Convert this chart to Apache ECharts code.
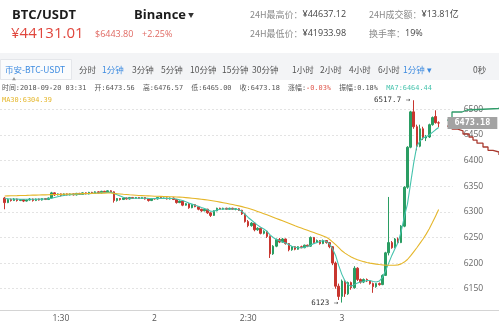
<!DOCTYPE html>
<html>
<head>
<meta charset="utf-8">
<script src="https://cdn.jsdelivr.net/npm/echarts@6/dist/echarts.min.js"></script>
<style>
html,body{margin:0;padding:0;background:#fff}
#chart{width:499px;height:329px}
</style>
</head>
<body>
<div id="chart"></div>
<script>
// 1-minute candles, 01:12 - 03:31
const firstTime = '01:12';
// [open, close, low, high]
const candles = [
  [6327,6318,6305,6329],[6318,6324,6317,6326],[6324,6322,6320,6326],[6322,6325,6321,6327],[6325,6322,6320,6326],
  [6322,6324,6321,6325],[6324,6321,6319,6325],[6321,6323,6320,6324],[6323,6325,6322,6327],[6325,6322,6320,6326],
  [6322,6325,6321,6326],[6325,6323,6322,6326],[6323,6326,6322,6327],[6326,6324,6323,6327],[6324,6327,6323,6328],
  [6327,6337,6326,6339],[6337,6333,6331,6338],[6333,6335,6332,6336],[6335,6332,6330,6336],[6332,6335,6331,6336],
  [6335,6333,6332,6336],[6333,6335,6332,6336],[6335,6333,6332,6336],[6333,6336,6332,6337],[6336,6334,6333,6337],
  [6334,6337,6333,6338],[6337,6335,6334,6338],[6335,6338,6334,6339],[6338,6336,6335,6339],[6336,6339,6335,6340],
  [6339,6337,6336,6340],[6337,6340,6336,6341],[6340,6338,6337,6341],[6338,6341,6337,6342],[6341,6339,6338,6342],
  [6339,6322,6318,6340],[6322,6326,6320,6327],[6326,6324,6322,6327],[6324,6327,6323,6328],[6327,6325,6324,6328],
  [6325,6328,6324,6329],[6328,6326,6325,6329],[6326,6328,6325,6329],[6328,6326,6325,6329],[6326,6328,6325,6329],
  [6328,6325,6324,6329],[6325,6322,6320,6326],[6322,6326,6321,6327],[6326,6325,6324,6327],[6325,6328,6324,6329],
  [6328,6326,6325,6329],[6326,6327,6325,6328],[6327,6325,6324,6328],[6325,6327,6324,6328],[6327,6324,6323,6328],
  [6324,6318,6316,6325],[6318,6321,6317,6322],[6321,6313,6311,6322],[6313,6316,6312,6317],[6316,6308,6306,6317],
  [6308,6314,6307,6315],[6314,6310,6309,6315],[6310,6305,6303,6311],[6305,6302,6300,6306],[6302,6305,6301,6306],
  [6305,6298,6296,6306],[6298,6293,6290,6299],[6293,6302,6292,6303],[6302,6307,6301,6308],[6307,6305,6304,6308],
  [6305,6307,6304,6308],[6307,6305,6304,6308],[6305,6307,6304,6308],[6307,6305,6304,6308],[6305,6306,6303,6307],
  [6306,6303,6302,6307],[6303,6296,6294,6304],[6296,6281,6279,6297],[6281,6273,6270,6284],[6273,6278,6271,6280],
  [6278,6265,6262,6279],[6265,6268,6263,6270],[6268,6258,6256,6269],[6258,6262,6256,6264],[6262,6252,6249,6263],
  [6252,6218,6210,6254],[6218,6233,6216,6235],[6233,6246,6231,6248],[6246,6241,6239,6249],[6241,6247,6240,6249],
  [6247,6238,6236,6248],[6238,6226,6223,6239],[6226,6232,6224,6233],[6232,6227,6225,6233],[6227,6232,6226,6233],
  [6232,6230,6229,6234],[6230,6235,6229,6236],[6235,6233,6231,6236],[6233,6250,6232,6252],[6250,6240,6238,6251],
  [6240,6244,6239,6246],[6244,6238,6236,6245],[6238,6244,6237,6246],[6244,6240,6238,6245],[6240,6232,6229,6241],
  [6232,6200,6196,6233],[6200,6155,6150,6203],[6155,6135,6128,6160],[6135,6165,6123,6168],[6165,6140,6134,6167],
  [6140,6162,6138,6164],[6162,6152,6148,6164],[6152,6190,6150,6194],[6190,6168,6165,6192],[6168,6163,6160,6170],
  [6163,6168,6161,6170],[6168,6165,6163,6170],[6165,6160,6158,6167],[6160,6154,6142,6162],[6154,6160,6152,6161],
  [6160,6158,6156,6162],[6158,6176,6157,6178],[6176,6220,6175,6222],[6220,6240,6215,6329],[6240,6230,6228,6243],
  [6230,6247,6229,6249],[6247,6240,6238,6250],[6240,6272,6239,6274],[6272,6348,6270,6350],[6348,6426,6345,6428],
  [6426,6495,6424,6497],[6495,6466,6462,6517.7],[6466,6428,6420,6470],[6428,6462,6426,6470],[6462,6444,6440,6466],
  [6444,6446,6438,6450],[6446,6470,6444,6472],[6470,6484,6468,6486],[6486,6474,6472,6498],[6473.56,6473.18,6465,6476.57]
];
const ma7 = [
  6326,6325.5,6325,6325,6324.8,6324.6,6324.4,6324.4,6324.5,6324.5,6324.6,6324.7,6324.8,6325,6325.5,
  6326.5,6328,6329.5,6331,6332,6333,6333.5,6334,6334,6334.5,6334.8,6335.2,6335.6,6336,6336.4,
  6336.8,6337.2,6337.6,6338,6338.4,6336,6333.5,6331,6328.5,6327,6326.5,6326.5,6326.5,6326.6,6326.7,
  6326.6,6326.2,6326,6326,6326.2,6326.3,6326.3,6326.2,6326.1,6326,6325,6323.5,6322,6319.5,6317,
  6315,6313,6311,6308.5,6306.5,6304,6301,6301,6303.5,6305,6305.5,6305.5,6305.5,6305.5,6305.5,
  6304,6301,6295,6289,6284,6279,6274,6270,6266.5,6262,6255,6250,6246,6244,6241,
  6239,6236,6233,6231,6230,6230,6231,6233,6235,6238,6240,6242,6244,6242,6238,
  6228,6215,6195,6178,6165,6158,6155,6158,6161,6163,6164,6166,6166,6164,6163,
  6165,6172,6185,6200,6215,6228,6240,6262,6290,6315,6355,6395,6428,6438,6444,
  6447,6450,6455,6460,6464.44
];
const ma30 = [
  6331.0,6331.2,6331.3,6331.5,6331.6,6331.8,6332.0,6332.1,6332.3,6332.5,
  6332.6,6332.8,6333.0,6333.1,6333.3,6333.5,6333.7,6333.9,6334.1,6334.3,
  6334.5,6334.7,6334.9,6335.1,6335.3,6335.5,6335.7,6335.9,6336.0,6336.2,
  6336.3,6336.4,6336.5,6336.6,6336.7,6336.0,6335.4,6334.8,6334.2,6333.7,
  6333.2,6332.8,6332.4,6332.0,6331.7,6331.4,6331.1,6330.8,6330.5,6330.3,
  6330.1,6329.9,6329.7,6329.5,6329.3,6329.0,6328.7,6328.3,6327.8,6327.2,
  6326.6,6326.0,6325.3,6324.6,6323.8,6323.0,6322.0,6321.0,6320.0,6319.0,
  6317.8,6316.6,6315.4,6314.2,6313.0,6311.6,6310.2,6308.6,6307.0,6305.2,
  6303.0,6300.8,6298.6,6296.4,6294.2,6292.0,6289.6,6287.2,6284.8,6282.4,
  6280.0,6277.6,6275.2,6272.8,6270.6,6268.4,6266.2,6264.0,6261.8,6259.6,
  6257.4,6255.2,6253.0,6250.6,6246.5,6241.5,6236.0,6230.0,6224.0,6219.5,
  6215.5,6212.0,6209.0,6206.5,6204.5,6202.8,6201.3,6200.0,6199.0,6198.0,
  6197.2,6196.5,6196.0,6195.8,6195.7,6195.8,6196.5,6198.5,6202.0,6207.0,
  6214.0,6222.0,6230.0,6238.5,6247.0,6256.5,6267.0,6279.0,6291.5,6304.39
];
// order book side lines: [depth, price]
const askDepth = [[0,6479],[5,6494.7],[15,6498.6],[20,6501.6],[52,6503.5]];
const bidDepth = [[0,6467],[5,6461.6],[10,6457.7],[16,6451.8],[22,6446],[26,6440],[30,6434],[36,6426.5],[41,6420],[46,6416.7],[52,6410.8]];
// time axis labels
const tickTimes = ['01:30','02:00','02:30','03:00'];
const tickLabels = ['1:30','2','2:30','3'];
const tabs = ['分时','1分钟','3分钟','5分钟','10分钟','15分钟','30分钟','1小时','2小时','4小时','6小时'];
const tabX = [79,102,132,161,190,222,252,292,320,349,378];

const UP = '#2a9d63', DOWN = '#c8362f', MA7C = '#46c3ad', MA30C = '#e5b62a';
const UI = '"Noto Sans CJK SC","Noto Sans",sans-serif';
const LAT = '"Open Sans","Noto Sans CJK SC",sans-serif';
const MONO = '"DejaVu Sans Mono","Noto Sans CJK SC",monospace';

// minute slots 01:11 - 03:35
const axisTimes = [];
for (let m = 71; m <= 215; m++) {
  axisTimes.push('0' + Math.floor(m / 60) + ':' + String(m % 60).padStart(2, '0'));
}
const off = axisTimes.indexOf(firstTime);
const pick = arr => axisTimes.map((t, i) => (i - off >= 0 && i - off < arr.length) ? arr[i - off] : '-');

const highs = candles.map(c => c[3]), lows = candles.map(c => c[2]);
const hiVal = Math.max(...highs), loVal = Math.min(...lows);
const hiIdx = highs.indexOf(hiVal) + off, loIdx = lows.indexOf(loVal) + off;
const last = candles[candles.length - 1];

const yMin = 6108.5, yMax = 6527.9;
const gridTop = 95, gridBottom = 19;

const txt = (text, x, y, font, fill, extra) => ({
  type: 'text', x: x, y: y, silent: true,
  style: Object.assign({ text: text, font: font, fill: fill, verticalAlign: 'middle' }, extra || {})
});
const pair = { l: { fill: '#8a8a8a', font: '9px ' + UI }, v: { fill: '#444', font: '9px ' + LAT } };
const infoFont = '6.9px ' + MONO;

const graphics = [
  { type: 'rect', shape: { x: 0, y: 53, width: 499, height: 27 }, style: { fill: '#f3f4f6' }, silent: true },
  { type: 'rect', shape: { x: 0.5, y: 59.5, width: 71, height: 20 }, style: { fill: '#fafbfc', stroke: '#e4e6ea' }, silent: true },
  txt('BTC/USDT', 12, 15.5, 'bold 13px ' + LAT, '#1c1c1c'),
  txt('Binance', 134, 15.5, 'bold 13px ' + LAT, '#1c1c1c'),
  txt('▼', 188, 14.5, '6px ' + UI, '#333'),
  txt('¥44131.01', 11, 34, '15px ' + LAT, '#e0463d'),
  txt('$6443.80', 95, 34.5, '9px ' + LAT, '#e06a63'),
  txt('+2.25%', 142, 34.5, '9px ' + LAT, '#e06a63'),
  txt('{l|24H最高价：}{v|¥44637.12}', 250, 14.5, '9px ' + UI, '#888', { rich: pair }),
  txt('{l|24H成交额：}{v|¥13.81亿}', 369, 14.5, '9px ' + UI, '#888', { rich: pair }),
  txt('{l|24H最低价：}{v|¥41933.98}', 250, 33.5, '9px ' + UI, '#888', { rich: pair }),
  txt('{l|换手率：}{v|19%}', 369, 33.5, '9px ' + UI, '#888', { rich: pair }),
  txt('币安-BTC-USDT', 5, 69.5, '8.5px ' + UI, '#3d8be0'),
  txt('▲', 12, 79, '4px ' + UI, '#999'),
  txt('1分钟 ▾', 403, 69.5, '8.5px ' + UI, '#3d8be0'),
  txt('0秒', 473, 69.5, '8.5px ' + UI, '#555'),
  txt('{g|时间:2018-09-20 03:31  开:6473.56  高:6476.57  低:6465.00  收:6473.18  涨幅:}{r|-0.03%}{g|  振幅:0.18%  }{t|MA7:6464.44}',
      2, 88.5, infoFont, '#555', { rich: { g: { fill: '#555', font: infoFont }, r: { fill: '#e0584d', font: infoFont }, t: { fill: MA7C, font: infoFont } } }),
  txt('MA30:6304.39', 2, 100, infoFont, MA30C)
];
tabs.forEach((t, i) => graphics.push(txt(t, tabX[i], 69.5, '8.5px ' + UI, t === '1分钟' ? '#3d8be0' : '#555')));

const chart = echarts.init(document.getElementById('chart'));
chart.setOption({
  animation: false,
  backgroundColor: '#fff',
  graphic: graphics,
  grid: [
    { left: 0, right: 46.3, top: gridTop, bottom: gridBottom },
    { left: 447, right: 0, top: gridTop, bottom: gridBottom }
  ],
  xAxis: [
    {
      type: 'category', data: axisTimes, boundaryGap: true, gridIndex: 0,
      axisLine: { lineStyle: { color: '#d4d4d4' } },
      axisTick: { show: false },
      axisLabel: {
        interval: (i, v) => tickTimes.includes(v),
        formatter: v => tickLabels[tickTimes.indexOf(v)],
        color: '#555', fontSize: 8.5, fontFamily: LAT, margin: 4
      },
      splitLine: { show: false }
    },
    {
      type: 'value', gridIndex: 1, min: 0, max: 52,
      axisLine: { show: true, onZero: false, lineStyle: { color: '#d4d4d4' } },
      axisTick: { show: false }, axisLabel: { show: false }, splitLine: { show: false }
    }
  ],
  yAxis: [
    {
      type: 'value', gridIndex: 0, position: 'right', min: yMin, max: yMax, splitNumber: 8,
      axisLine: { show: false }, axisTick: { show: false },
      axisLabel: { color: '#666', fontSize: 8.5, fontFamily: LAT, margin: 11, formatter: v => (v % 50 === 0 ? String(v) : '') },
      splitLine: { show: true, showMinLine: false, showMaxLine: false, lineStyle: { color: '#e3e3e3', type: [2, 2] } }
    },
    {
      type: 'value', gridIndex: 1, min: yMin, max: yMax, show: false
    }
  ],
  series: [
    {
      type: 'candlestick', name: 'K', data: pick(candles), barWidth: 2,
      itemStyle: { color: UP, color0: DOWN, borderColor: UP, borderColor0: DOWN, borderWidth: 1 },
      markPoint: {
        symbol: 'circle', symbolSize: 1, itemStyle: { color: 'rgba(0,0,0,0)' },
        label: { show: true, position: 'left', distance: 3, color: '#333', fontSize: 7.5, fontFamily: MONO, formatter: '{b}' },
        data: [
          { name: hiVal + ' →', coord: [axisTimes[hiIdx], hiVal] },
          { name: loVal + ' →', coord: [axisTimes[loIdx], loVal] }
        ]
      }
    },
    { type: 'line', name: 'MA7', data: pick(ma7), symbol: 'none', lineStyle: { color: MA7C, width: 1.1 }, z: 3 },
    { type: 'line', name: 'MA30', data: pick(ma30), symbol: 'none', lineStyle: { color: MA30C, width: 1.1 }, z: 3 },
    {
      type: 'line', name: 'ask', xAxisIndex: 1, yAxisIndex: 1, data: askDepth, step: 'end', symbol: 'none',
      lineStyle: { color: '#2f9b69', width: 1.3 }
    },
    {
      type: 'line', name: 'bid', xAxisIndex: 1, yAxisIndex: 1, data: bidDepth, step: 'end', symbol: 'none',
      lineStyle: { color: '#a9392e', width: 1.3 },
      markPoint: {
        symbol: 'circle', symbolSize: 1, itemStyle: { color: 'rgba(0,0,0,0)' },
        label: {
          show: true, position: 'right', distance: 0, formatter: '{b}',
          backgroundColor: '#a3a3a3', color: '#fff', fontSize: 8.5, fontWeight: 'bold', fontFamily: MONO,
          padding: [2, 7, 1.5, 7]
        },
        data: [{ name: last[1].toFixed(2), coord: [0, last[1]] }]
      }
    }
  ]
});
</script>
</body>
</html>
